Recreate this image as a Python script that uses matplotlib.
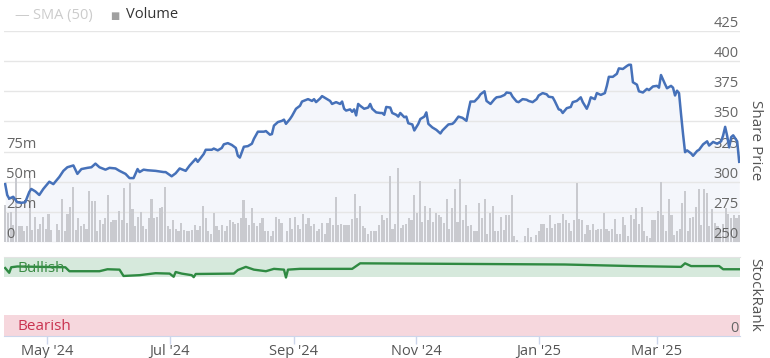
import numpy as np
import matplotlib
matplotlib.use("Agg")
import matplotlib.pyplot as plt
import matplotlib.dates as mdates

plt.rcParams['font.family'] = ['Open Sans', 'DejaVu Sans']

# first day shown on the chart, all day offsets below count from it
START = np.datetime64('2024-04-10')

# share price: day offset -> price
price_days = [0, 1, 2, 4, 6, 8, 10, 12, 13, 15, 17, 19, 22, 24, 27, 29, 31, 34, 36, 38,
              41, 43, 45, 47, 50, 52, 55, 57, 60, 62, 64, 66, 67, 69, 71, 75, 79, 80, 83, 85,
              87, 90, 92, 95, 96, 99, 100, 103, 104, 106, 108, 109, 111, 113, 115, 116, 117, 119, 121, 123,
              124, 126, 129, 130, 132, 133, 134, 136, 138, 139, 140, 142, 143, 145, 147, 148, 151, 153, 154, 155,
              157, 158, 160, 162, 163, 165, 167, 168, 169, 170, 172, 173, 174, 175, 176, 177, 179, 181, 182, 183,
              185, 187, 188, 189, 190, 192, 193, 195, 196, 197, 199, 200, 201, 203, 204, 206, 207, 209, 210, 211,
              213, 215, 217, 218, 221, 223, 224, 226, 228, 230, 231, 232, 234, 236, 237, 239, 240, 242, 244, 245,
              247, 249, 250, 252, 253, 255, 256, 258, 260, 261, 263, 265, 266, 268, 270, 271, 273, 274, 276, 277,
              278, 280, 282, 283, 285, 287, 288, 290, 291, 292, 294, 295, 297, 299, 300, 301, 303, 305, 306, 308,
              310, 311, 312, 313, 315, 316, 318, 320, 321, 323, 325, 326, 327, 329, 330, 332, 333, 334, 335, 336,
              337, 338, 339, 340, 342, 343, 344, 345, 346, 348, 350, 351, 352, 353, 355, 357, 358, 359, 360, 361,
              362, 363, 365, 366]
price_vals = [298, 289, 286, 287.5, 283, 282.5, 283, 291.5, 294, 292, 289, 294, 300, 298, 304, 309, 312, 313.5, 306.5, 310.5,
              311.5, 312, 315, 312, 310, 311.5, 311, 309, 306.5, 303, 303, 310.5, 308, 310, 309.5, 309, 308, 308, 304.5, 307,
              311, 309, 313.5, 319, 316.5, 323, 326.5, 326.5, 327.5, 326, 328, 331, 332, 330.5, 328, 321.5, 320, 329, 329.5, 331.5,
              335.5, 341.5, 341.5, 342, 339, 339.5, 346.5, 349.5, 350.5, 351.5, 348, 352, 354.5, 360.5, 363, 366.5, 368.5, 367, 368.5, 366,
              369, 371, 369, 367, 364.5, 366, 364.5, 366.5, 360.5, 359, 360, 358, 360, 355, 364.5, 363, 360.5, 361.5, 364.5, 360.5,
              357.5, 357, 357, 355.5, 362, 361.5, 357, 355.5, 354, 357, 353.5, 354, 348.5, 347.5, 342.5, 348, 352, 354, 357.5, 348,
              345, 343, 340, 342.5, 347.5, 348, 349.5, 354, 353, 350.5, 359, 366.5, 366.5, 370, 372.5, 375, 367, 364.5, 368.5, 370,
              370.5, 372, 374, 373.5, 370.5, 366.5, 366, 368.5, 368, 367, 366, 368.5, 371.5, 373.5, 372.5, 370.5, 370, 367, 360, 359.5,
              357, 361, 362, 366, 367, 370, 366, 360.5, 364.5, 370, 368.5, 373.5, 372, 373.5, 379.5, 387, 387, 389.5, 394, 393.5,
              396, 397, 397, 382.5, 380.5, 375, 374, 377, 376, 379, 379.5, 378, 388.5, 381, 377.5, 379.5, 378, 371.5, 375.5, 373.5,
              356, 339.5, 324.5, 326, 323.5, 321.5, 323.5, 325.5, 326.5, 331, 333.5, 330, 331.5, 333, 331.5, 333.5, 338.5, 345.5, 338, 328.5,
              337, 338.5, 333.5, 316.5]

# daily volume in millions, in trading order
volume_m = [31, 24, 25, 14, 53, 13, 13, 9, 13, 53, 10, 21, 11, 15, 21, 11, 23, 10, 0, 15,
            10, 36, 9, 23, 29, 46, 10, 20, 13, 15, 11, 42, 34, 34, 9, 18, 15, 20, 39, 17,
            18, 18, 26, 18, 45, 16, 49, 27, 13, 21, 25, 13, 11, 20, 36, 20, 21, 28, 29, 46,
            13, 11, 18, 11, 9, 16, 10, 9, 9, 10, 14, 10, 13, 30, 20, 9, 7, 24, 13, 10,
            14, 9, 13, 18, 17, 15, 16, 20, 35, 20, 14, 28,
            16, 13, 16, 20, 9, 9, 5, 9, 21, 19, 16, 0, 9, 20, 11, 21, 14, 11, 23, 15,
            20, 13, 15, 9, 11, 16, 7, 16, 20, 14, 37, 14, 15, 14, 14, 14, 19, 40, 20, 30,
            13, 12, 7, 9, 9, 9, 14, 22, 18, 20, 55, 11, 15, 61, 12, 14, 15, 20, 18, 39,
            24, 51, 17, 30, 18, 28, 17, 24, 22, 21, 16, 36, 11, 28, 44, 17, 52, 18, 31, 13,
            14, 9, 9, 32, 20, 36, 7, 24,
            30, 9, 9, 21, 10, 22, 22, 39, 5, 2, 0, 0, 5, 12, 4, 0, 6, 9, 15, 15,
            12, 22, 12, 15, 16, 16, 23, 18, 16, 9, 18, 49, 19, 18, 7, 14, 10, 15, 10, 11,
            11, 24, 11, 9, 11, 19, 7, 7, 21, 14, 5, 22, 19, 28, 15, 29, 9, 5, 3, 18,
            18, 26, 50, 22, 9, 36, 22, 6, 9, 11, 32, 42, 9, 20, 21, 29, 44, 14, 44, 41,
            13, 27, 16, 13, 10, 15, 28, 23, 20, 22, 20, 22]

# StockRank: day offset -> rank
rank_days = [0, 2, 3, 6, 30, 32, 47, 51, 57, 59, 67, 75, 82, 84, 85, 88, 93, 94, 95, 114,
             116, 120, 124, 130, 134, 139, 140, 141, 147, 173, 177, 246, 279, 313, 337, 339, 342, 356, 358, 366]
rank_vals = [86, 80, 87, 88, 87, 82, 82, 84.5, 84, 76, 77, 79.5, 79, 75, 81, 79, 77, 74.5, 78.5, 79,
             83.5, 87.5, 84, 82, 85, 84, 74, 84, 85, 85, 92, 91, 90.5, 88.5, 87.5, 92, 88.5, 88.5, 84.5, 84.5]

price_ticks = [250, 275, 300, 325, 350, 375, 400, 425]
volume_ticks = [0, 25, 50, 75]
volume_labels = ['0', '25m', '50m', '75m']

x0 = mdates.date2num(START)
px = x0 + np.array(price_days)
rx = x0 + np.array(rank_days)
# the source uses an ordinal axis, so bars sit evenly across the year
vx = x0 + np.linspace(0, 366, len(volume_m))
xlim = (x0 - 0.6, x0 + 366.4)

W, H = 770, 358
fig = plt.figure(figsize=(W / 100, H / 100), dpi=100)


def box(l, t, r, b):
    return [l / W, 1 - b / H, (r - l) / W, (b - t) / H]


# price panel: fill + grid at the back, volume bars, then the line on top
ax_p = fig.add_axes(box(4, 31, 740, 242))
ax_v = ax_p.twinx()
ax_l = ax_p.twinx()
ax_p.set_zorder(1)
ax_v.set_zorder(2)
ax_l.set_zorder(3)
ax_v.patch.set_visible(False)
ax_l.patch.set_visible(False)

ax_p.fill_between(px, price_vals, 250, color='#f4f6fb', lw=0)
ax_p.set_ylim(250, 425)
ax_p.set_yticks(price_ticks)
ax_p.grid(axis='y', color='#e6e6e6', lw=1)
ax_p.tick_params(left=False, right=False, labelleft=False, labelright=False,
                 bottom=False, labelbottom=False)

ax_v.bar(vx, volume_m, width=1.05, color='#c9cacf', lw=0)
ax_v.set_ylim(0, 175)
ax_v.yaxis.set_ticks_position('left')
ax_v.set_yticks(volume_ticks)
ax_v.set_yticklabels(volume_labels)
ax_v.tick_params(axis='y', length=0, pad=-1.5, labelsize=10.5, colors='#666666')
for lab in ax_v.get_yticklabels():
    lab.set_horizontalalignment('left')
    lab.set_verticalalignment('bottom')

ax_l.plot(px, price_vals, color='#4671b9', lw=1.8, solid_joinstyle='round')
ax_l.set_ylim(250, 425)
ax_l.set_yticks(price_ticks)
ax_l.tick_params(axis='y', length=0, pad=-1, labelsize=10.5, colors='#666666')
for lab in ax_l.get_yticklabels():
    lab.set_horizontalalignment('right')
    lab.set_verticalalignment('bottom')

for a in (ax_p, ax_v, ax_l):
    a.set_xlim(*xlim)
    for s in a.spines.values():
        s.set_visible(False)

# StockRank panel
ax_r = fig.add_axes(box(4, 257, 740, 336))
ax_r.set_xlim(*xlim)
ax_r.set_ylim(0, 100)
ax_r.axhspan(75, 99, color='#d6e9dc', lw=0)
ax_r.axhspan(0, 26.5, color='#f6d7dd', lw=0)
ax_r.plot(rx, rank_vals, color='#2f8a42', lw=1.7)
ax_r.text(0.018, 85.5, 'Bullish', transform=ax_r.get_yaxis_transform(),
          color='#3a8c44', fontsize=11, va='center')
ax_r.text(0.018, 12.5, 'Bearish', transform=ax_r.get_yaxis_transform(),
          color='#c93350', fontsize=11, va='center')
ax_r.yaxis.tick_right()
ax_r.set_yticks([0])
ax_r.tick_params(axis='y', length=0, pad=-1, labelsize=10.5, colors='#666666')
for lab in ax_r.get_yticklabels():
    lab.set_horizontalalignment('right')
    lab.set_verticalalignment('bottom')
ax_r.spines['left'].set_visible(False)
ax_r.spines['right'].set_visible(False)
ax_r.spines['top'].set_color('#e3e3e3')
ax_r.spines['bottom'].set_color('#ccd6eb')
ax_r.xaxis.set_major_locator(mdates.MonthLocator(bymonth=(1, 3, 5, 7, 9, 11)))
ax_r.xaxis.set_major_formatter(mdates.DateFormatter("%b '%y"))
ax_r.tick_params(axis='x', length=6, width=1, color='#ccd6eb', pad=0,
                 labelsize=10.5, labelcolor='#555555')

# legend row and side titles
fig.text(14 / W, 1 - 15 / H, '\u2014', color='#cccccc', fontsize=10.5, va='center')
fig.text(33 / W, 1 - 15 / H, 'SMA (50)', color='#cccccc', fontsize=10.5, va='center')
fig.text(110 / W, 1 - 16 / H, '\u25a0', color='#a0a0a0', fontsize=7, va='center')
fig.text(126 / W, 1 - 15 / H, 'Volume', color='#333333', fontsize=10.5, va='center')
fig.text(755 / W, 1 - 140 / H, 'Share Price', rotation=270, color='#555555',
         fontsize=11, ha='center', va='center')
fig.text(755 / W, 1 - 295 / H, 'StockRank', rotation=270, color='#555555',
         fontsize=11, ha='center', va='center')

fig.savefig('out.png', dpi=100)
